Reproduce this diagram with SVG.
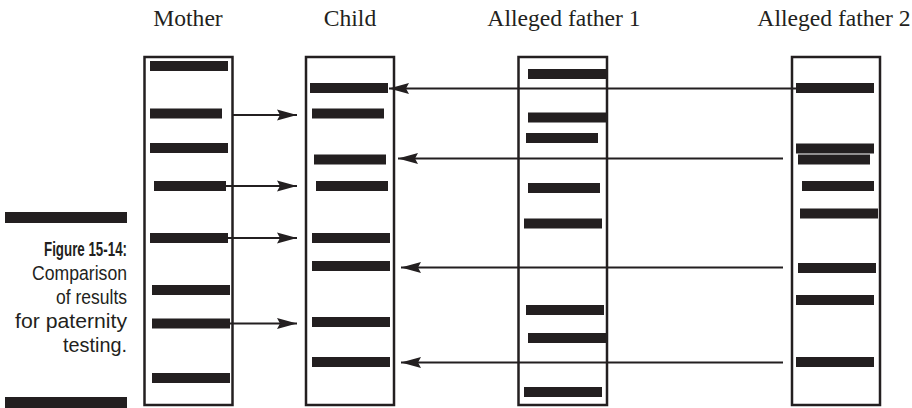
<svg xmlns="http://www.w3.org/2000/svg" width="912" height="408" viewBox="0 0 912 408">
<style>
.hdr{font-family:"Liberation Serif","Times New Roman",serif;font-size:23.6px;fill:#231f20;text-anchor:middle}
.lane{fill:none;stroke:#231f20;stroke-width:2.5}
.band{fill:#231f20}
.arr{stroke:#231f20;stroke-width:2.2;fill:none;marker-end:url(#ah)}
.cap{font-family:"Liberation Sans Narrow","Liberation Sans",Arial,sans-serif;font-size:20.5px;fill:#231f20;text-anchor:end}
.bar{fill:#231f20}
</style>
<defs>
<marker id="ah" markerUnits="userSpaceOnUse" markerWidth="22" markerHeight="14" refX="20" refY="6" orient="auto">
<path d="M0,0.5 L20,6 L0,11.5 L3,6 z" fill="#231f20"/>
</marker>
</defs>
<rect width="912" height="408" fill="#ffffff"/>
<g id="caption">
<rect class="bar" x="5" y="212" width="122" height="11"/>
<text class="cap" x="127" y="256" font-weight="bold" textLength="83" lengthAdjust="spacingAndGlyphs">Figure 15-14:</text>
<text class="cap" x="127" y="280" textLength="95" lengthAdjust="spacingAndGlyphs">Comparison</text>
<text class="cap" x="127" y="304" textLength="71" lengthAdjust="spacingAndGlyphs">of results</text>
<text class="cap" x="127" y="328" textLength="112" lengthAdjust="spacingAndGlyphs">for paternity</text>
<text class="cap" x="127" y="352" textLength="64" lengthAdjust="spacingAndGlyphs">testing.</text>
<rect class="bar" x="5" y="397" width="122" height="11"/>
</g>
<g id="mother">
<text class="hdr" x="188" y="26">Mother</text>
<rect class="lane" x="144.5" y="57" width="88" height="348"/>
<rect class="band" x="150" y="61" width="78" height="10"/>
<rect class="band" x="150" y="108.5" width="72" height="10"/>
<rect class="band" x="150" y="143" width="78" height="10"/>
<rect class="band" x="154" y="181" width="72" height="10"/>
<rect class="band" x="150" y="233" width="78" height="10"/>
<rect class="band" x="152" y="285" width="78" height="10"/>
<rect class="band" x="152" y="318.5" width="78" height="10"/>
<rect class="band" x="152" y="373" width="78" height="10"/>
</g>
<g id="child">
<text class="hdr" x="350" y="26">Child</text>
<rect class="lane" x="306" y="57" width="88" height="348"/>
<rect class="band" x="310" y="83" width="78" height="10"/>
<rect class="band" x="312" y="108.5" width="72" height="10"/>
<rect class="band" x="314" y="154.5" width="72" height="10"/>
<rect class="band" x="316" y="181" width="72" height="10"/>
<rect class="band" x="312" y="233" width="78" height="10"/>
<rect class="band" x="312" y="261" width="78" height="10"/>
<rect class="band" x="312" y="317" width="78" height="10"/>
<rect class="band" x="312" y="357" width="78" height="10"/>
</g>
<g id="father1">
<text class="hdr" x="564" y="26">Alleged father 1</text>
<rect class="lane" x="518.5" y="57" width="88.5" height="348"/>
<rect class="band" x="528" y="69" width="79" height="10"/>
<rect class="band" x="528" y="112.5" width="79" height="10"/>
<rect class="band" x="526" y="133" width="72" height="10"/>
<rect class="band" x="528" y="183" width="72" height="10"/>
<rect class="band" x="524" y="218.5" width="78" height="10"/>
<rect class="band" x="526" y="305" width="78" height="10"/>
<rect class="band" x="528" y="333" width="79" height="10"/>
<rect class="band" x="524" y="387" width="78" height="10"/>
</g>
<g id="father2">
<text class="hdr" x="834" y="26">Alleged father 2</text>
<rect class="lane" x="792" y="57" width="88" height="348"/>
<rect class="band" x="796" y="83" width="78" height="10"/>
<rect class="band" x="796" y="143.5" width="78" height="10"/>
<rect class="band" x="798" y="154.5" width="72" height="10"/>
<rect class="band" x="802" y="181" width="72" height="10"/>
<rect class="band" x="800" y="208.5" width="78" height="10"/>
<rect class="band" x="798" y="263" width="78" height="10"/>
<rect class="band" x="796" y="295" width="78" height="10"/>
<rect class="band" x="796" y="357" width="78" height="10"/>
</g>
<g id="connectors">
<line class="arr" x1="233" y1="115" x2="297" y2="115"/>
<line class="arr" x1="226" y1="186" x2="297" y2="186"/>
<line class="arr" x1="228" y1="238" x2="297" y2="238"/>
<line class="arr" x1="230" y1="323.5" x2="297" y2="323.5"/>
<line class="arr" x1="797" y1="88.5" x2="389" y2="88.5"/>
<line class="arr" x1="783" y1="158.5" x2="398" y2="158.5"/>
<line class="arr" x1="783" y1="267.5" x2="401" y2="267.5"/>
<line class="arr" x1="783" y1="362.5" x2="401" y2="362.5"/>
</g>
</svg>
